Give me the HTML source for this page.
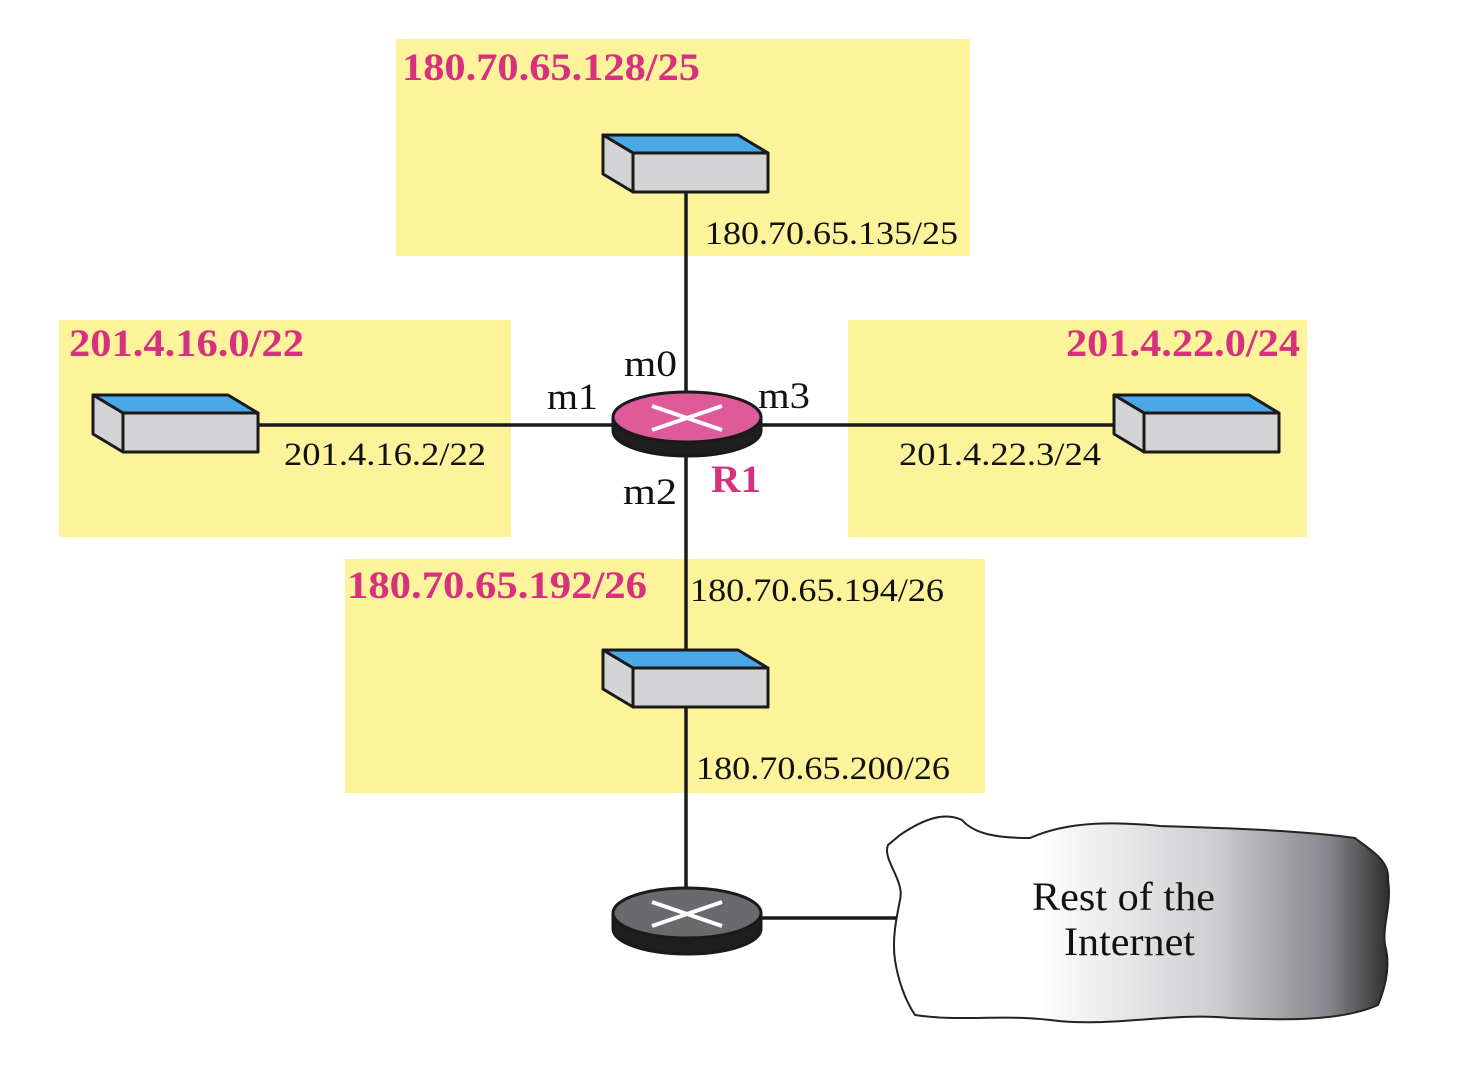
<!DOCTYPE html>
<html><head><meta charset="utf-8"><style>
html,body{margin:0;padding:0;background:#fff}
svg{display:block}
text{font-family:"Liberation Serif",serif}
.p{fill:#d6307f;font-weight:bold;font-size:39px}
.b{fill:#111;font-size:33px}
.m{fill:#111;font-size:37px}
</style></head><body>
<svg width="1476" height="1072" viewBox="0 0 1476 1072" xmlns="http://www.w3.org/2000/svg">
<defs>
<linearGradient id="cg" x1="0" x2="1" y1="0" y2="0">
<stop offset="0" stop-color="#fff"/><stop offset="0.3" stop-color="#fff"/>
<stop offset="0.65" stop-color="#cfcfd2"/><stop offset="0.88" stop-color="#86868c"/><stop offset="1" stop-color="#2e2e2e"/>
</linearGradient>
<g id="sw" stroke="#1a1a1a" stroke-width="3" stroke-linejoin="round">
<polygon points="0,0 135,0 165,18 30,18" fill="#4aa8e6"/>
<polygon points="0,0 30,18 30,57 0,39" fill="#d4d4d6"/>
<rect x="30" y="18" width="135" height="39" fill="#d4d4d6"/>
</g>
</defs>
<rect x="0" y="0" width="1476" height="1072" fill="#fff"/>
<rect x="396" y="39" width="574" height="217" fill="#fdf39a"/>
<rect x="59" y="320" width="452" height="217" fill="#fdf39a"/>
<rect x="848" y="320" width="459" height="217" fill="#fdf39a"/>
<rect x="345" y="559" width="640" height="234" fill="#fdf39a"/>
<g stroke="#1a1a1a" stroke-width="3.5">
<line x1="686" y1="192" x2="686" y2="400"/>
<line x1="686" y1="440" x2="686" y2="650"/>
<line x1="686" y1="707" x2="686" y2="895"/>
<line x1="258" y1="425" x2="620" y2="425"/>
<line x1="755" y1="425" x2="1144" y2="425"/>
<line x1="755" y1="918" x2="900" y2="918"/>
</g>
<use href="#sw" x="603" y="135"/>
<use href="#sw" x="93" y="395"/>
<use href="#sw" x="1114" y="395"/>
<use href="#sw" x="603" y="650"/>
<g stroke="#1a1a1a" stroke-width="3">
<path d="M613,417 v14 a74,25 0 0 0 148,0 v-14" fill="#1e1e1e"/>
<ellipse cx="687" cy="417" rx="74" ry="25" fill="#de5a98"/>
</g>
<g stroke="#fff" stroke-width="4"><line x1="652" y1="406" x2="722" y2="430"/><line x1="652" y1="430" x2="722" y2="406"/></g>
<g stroke="#1a1a1a" stroke-width="3">
<path d="M613,913 v16 a74,25 0 0 0 148,0 v-16" fill="#1e1e1e"/>
<ellipse cx="687" cy="913" rx="74" ry="25" fill="#6a6a6e"/>
</g>
<g stroke="#fff" stroke-width="4"><line x1="652" y1="902" x2="722" y2="926"/><line x1="652" y1="926" x2="722" y2="902"/></g>
<path d="M900,835 C925,818 945,812 962,820 C975,835 1000,838 1030,838 C1070,820 1120,822 1160,826 C1220,828 1300,830 1355,838 C1370,850 1390,860 1388,880 C1392,905 1382,925 1385,945 C1392,970 1382,995 1378,1005 C1340,1022 1280,1020 1230,1018 C1170,1012 1110,1028 1050,1020 C1000,1014 960,1022 915,1015 C905,1000 898,980 895,960 C892,940 896,920 900,900 C905,880 882,860 888,845 Z" fill="url(#cg)" stroke="#222" stroke-width="2"/>
<text class="b" x="1032" y="910" textLength="183" lengthAdjust="spacingAndGlyphs" style="font-size:40px">Rest of the</text>
<text class="b" x="1064" y="955" textLength="131" lengthAdjust="spacingAndGlyphs" style="font-size:40px">Internet</text>
<text class="p" x="402" y="80" textLength="298" lengthAdjust="spacingAndGlyphs">180.70.65.128/25</text>
<text class="p" x="69" y="356" textLength="235" lengthAdjust="spacingAndGlyphs">201.4.16.0/22</text>
<text class="p" x="1066" y="356" textLength="234" lengthAdjust="spacingAndGlyphs">201.4.22.0/24</text>
<text class="p" x="347" y="598" textLength="300" lengthAdjust="spacingAndGlyphs">180.70.65.192/26</text>
<text class="p" x="711" y="492" textLength="50" lengthAdjust="spacingAndGlyphs">R1</text>
<text class="b" x="705" y="244" textLength="253" lengthAdjust="spacingAndGlyphs">180.70.65.135/25</text>
<text class="b" x="284" y="465" textLength="202" lengthAdjust="spacingAndGlyphs">201.4.16.2/22</text>
<text class="b" x="899" y="465" textLength="202" lengthAdjust="spacingAndGlyphs">201.4.22.3/24</text>
<text class="b" x="690" y="601" textLength="254" lengthAdjust="spacingAndGlyphs">180.70.65.194/26</text>
<text class="b" x="696" y="779" textLength="254" lengthAdjust="spacingAndGlyphs">180.70.65.200/26</text>
<text class="m" x="624" y="376" textLength="53" lengthAdjust="spacingAndGlyphs">m0</text>
<text class="m" x="547" y="409" textLength="51" lengthAdjust="spacingAndGlyphs">m1</text>
<text class="m" x="758" y="408" textLength="52" lengthAdjust="spacingAndGlyphs">m3</text>
<text class="m" x="623" y="504" textLength="54" lengthAdjust="spacingAndGlyphs">m2</text>
</svg>
</body></html>
